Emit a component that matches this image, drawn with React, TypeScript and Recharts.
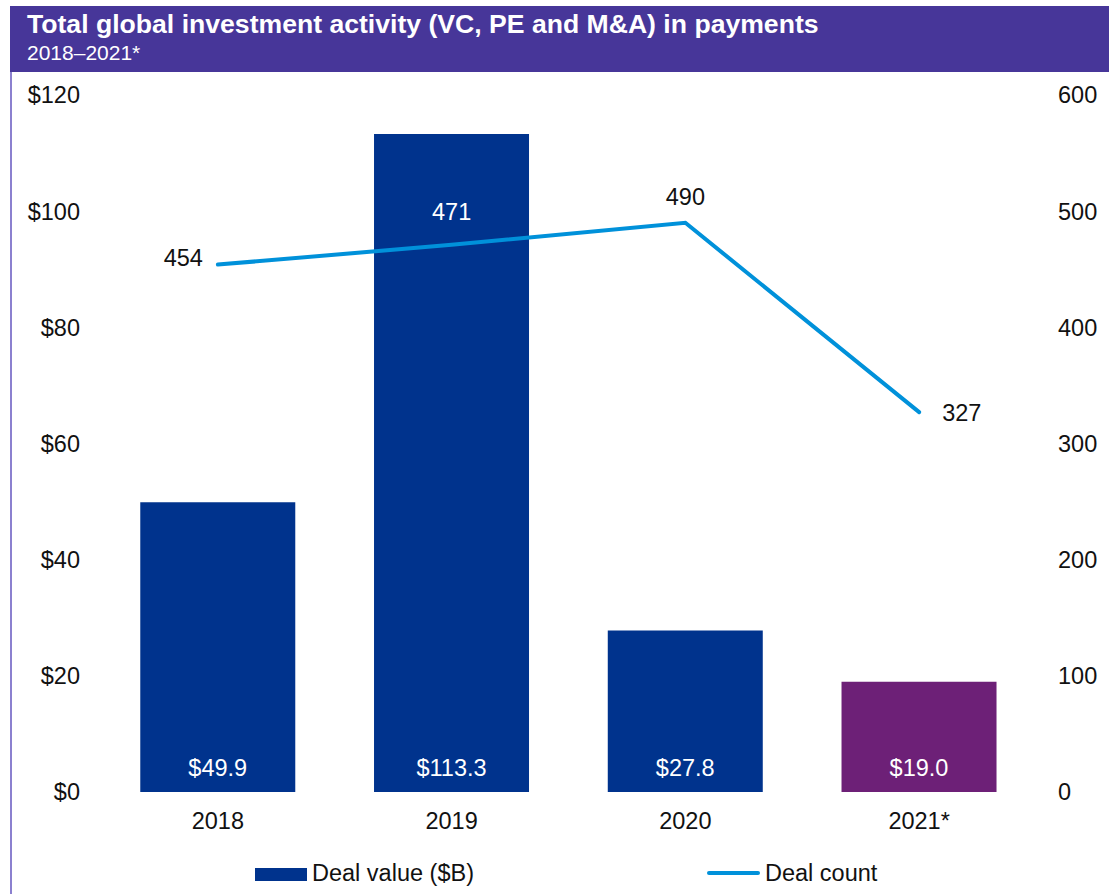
import React from 'react';
import { ComposedChart, Bar, Line, XAxis, YAxis, Cell, LabelList } from 'recharts';

const categories = ['2018', '2019', '2020', '2021*'];
const dealValue = [49.9, 113.3, 27.8, 19.0];
const dealCount = [454, 471, 490, 327];
const valueTicks = [0, 20, 40, 60, 80, 100, 120];
const countTicks = [0, 100, 200, 300, 400, 500, 600];

const data = categories.map((c, i) => ({ year: c, value: dealValue[i], count: dealCount[i] }));

const FONT = '"Liberation Sans", Arial, Helvetica, sans-serif';
const BAR_BLUE = '#00338D';
const BAR_PURPLE = '#6D2077';
const LINE_BLUE = '#0091DA';
const HEADER = '#473699';
const FS = 23.5;

const barColors = [BAR_BLUE, BAR_BLUE, BAR_BLUE, BAR_PURPLE];
const countLabelPlacement = ['left', 'aboveInside', 'above', 'right'];

const BarValueLabel = (props: any) => {
  const { x, y, width, height, value } = props;
  return (
    <text x={x + width / 2} y={y + height - 16} textAnchor="middle" fill="#ffffff" fontSize={FS} fontFamily={FONT}>
      {`$${Number(value).toFixed(1)}`}
    </text>
  );
};

const CountLabel = (props: any) => {
  const { x, y, value, index } = props;
  const p = countLabelPlacement[index];
  let tx = x;
  let ty = y;
  let anchor: any = 'middle';
  let fill = '#111111';
  if (p === 'left') {
    tx = x - 15;
    ty = y + 1;
    anchor = 'end';
  } else if (p === 'aboveInside') {
    ty = y - 25;
    fill = '#ffffff';
  } else if (p === 'above') {
    ty = y - 18;
  } else if (p === 'right') {
    tx = x + 23;
    ty = y + 9;
    anchor = 'start';
  }
  return (
    <text x={tx} y={ty} textAnchor={anchor} fill={fill} fontSize={FS} fontFamily={FONT}>
      {value}
    </text>
  );
};

export default function App() {
  return (
    <div style={{ position: 'absolute', left: 0, top: 0, width: 1109, height: 894, background: '#ffffff', fontFamily: FONT, overflow: 'hidden' }}>
      <div style={{ position: 'absolute', left: 10, top: 6, width: 1099, height: 66, background: HEADER }} />
      <div style={{ position: 'absolute', left: 10, top: 72, width: 2, height: 822, background: '#8B80CF' }} />
      <div style={{ position: 'absolute', left: 27, top: 9, color: '#ffffff', fontWeight: 'bold', fontSize: 26.6, lineHeight: '30px', whiteSpace: 'nowrap' }}>
        Total global investment activity (VC, PE and M&amp;A) in payments
      </div>
      <div style={{ position: 'absolute', left: 27, top: 41, color: '#ffffff', fontSize: 21, lineHeight: '24px', whiteSpace: 'nowrap' }}>
        2018–2021*
      </div>
      <div style={{ position: 'absolute', left: 0, top: 0 }}>
        <ComposedChart width={1109} height={894} data={data} margin={{ top: 95, right: 0, bottom: 0, left: 0 }} barCategoryGap="16.8%">
          <XAxis
            dataKey="year"
            axisLine={false}
            tickLine={false}
            tickSize={0}
            tickMargin={20}
            height={102}
            tick={{ fill: '#111111', fontSize: FS, fontFamily: FONT }}
          />
          <YAxis
            yAxisId="left"
            orientation="left"
            width={101}
            domain={[0, 120]}
            ticks={valueTicks}
            axisLine={false}
            tickLine={false}
            tickSize={0}
            tickMargin={21}
            tickFormatter={(v: number) => `$${v}`}
            tick={{ fill: '#111111', fontSize: FS, fontFamily: FONT }}
          />
          <YAxis
            yAxisId="right"
            orientation="right"
            width={73}
            domain={[0, 600]}
            ticks={countTicks}
            axisLine={false}
            tickLine={false}
            tickSize={0}
            tickMargin={22}
            tick={{ fill: '#111111', fontSize: FS, fontFamily: FONT, textAnchor: 'start' }}
          />
          <Bar yAxisId="left" dataKey="value" isAnimationActive={false}>
            {data.map((d, i) => (
              <Cell key={d.year} fill={barColors[i]} />
            ))}
            <LabelList dataKey="value" content={BarValueLabel} />
          </Bar>
          <Line
            yAxisId="right"
            dataKey="count"
            type="linear"
            stroke={LINE_BLUE}
            strokeWidth={4}
            strokeLinecap="round"
            strokeLinejoin="miter"
            dot={false}
            activeDot={false}
            isAnimationActive={false}
          >
            <LabelList dataKey="count" content={CountLabel} />
          </Line>
        </ComposedChart>
      </div>
      <div style={{ position: 'absolute', left: 255, top: 868, width: 52, height: 13, background: BAR_BLUE }} />
      <div style={{ position: 'absolute', left: 312, top: 860, fontSize: FS, lineHeight: '27px', color: '#111111', whiteSpace: 'nowrap' }}>
        Deal value ($B)
      </div>
      <div style={{ position: 'absolute', left: 707, top: 871, width: 53, height: 4, borderRadius: 2, background: LINE_BLUE }} />
      <div style={{ position: 'absolute', left: 765, top: 860, fontSize: FS, lineHeight: '27px', color: '#111111', whiteSpace: 'nowrap' }}>
        Deal count
      </div>
    </div>
  );
}
